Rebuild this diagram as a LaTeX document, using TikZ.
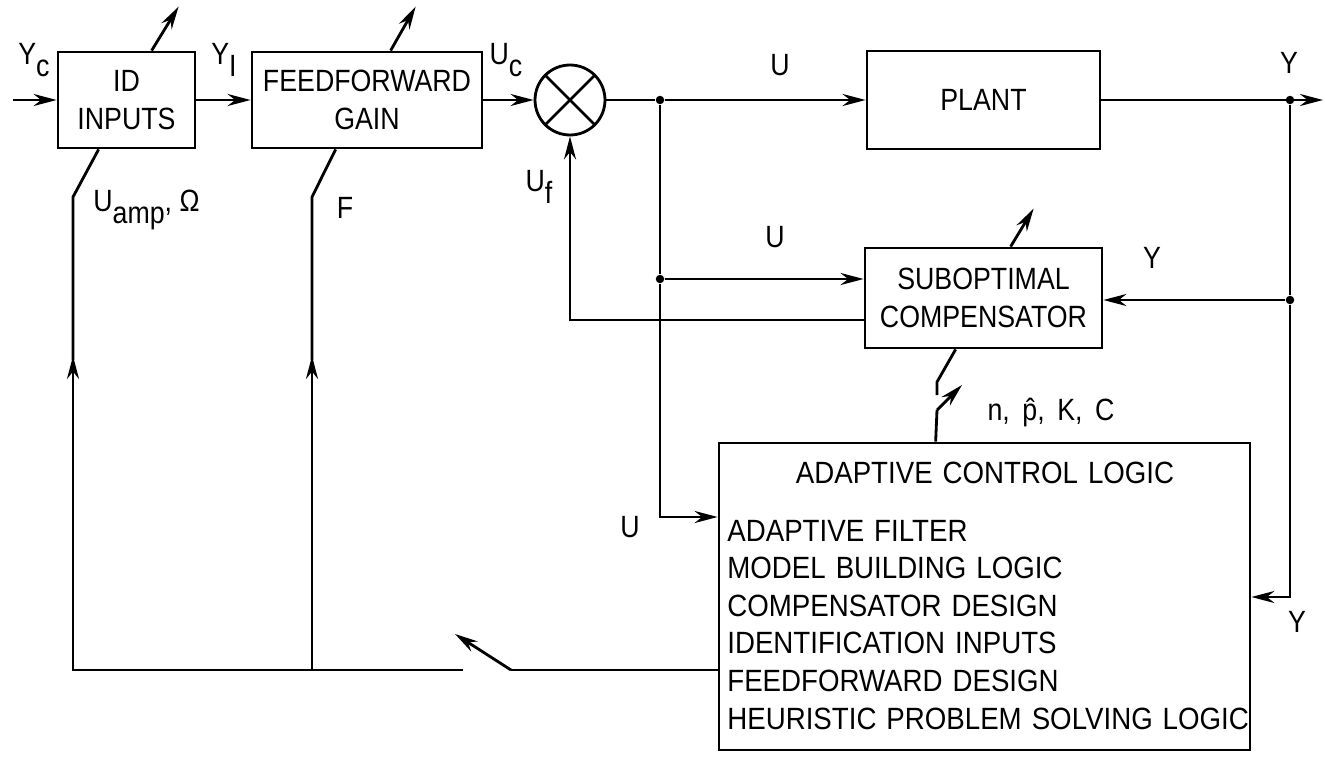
\documentclass[tikz,border=0pt]{standalone}
\usepackage{fontspec}
\setmainfont{Liberation Sans}[FakeStretch=0.87]
\newfontfamily\widefont{Liberation Sans}[FakeStretch=0.9, WordSpace=1.3]
\usetikzlibrary{arrows.meta,calc}

\newcommand{\sigfont}{\fontsize{17.5}{21.4}\selectfont}
\newcommand{\dn}[1]{\raisebox{-0.7ex}{#1}}

\begin{document}
\begin{tikzpicture}[x=0.02cm, y=-0.02cm,
    block/.style={rectangle, draw, line width=1.6pt, font=\sigfont, align=center, inner sep=0pt},
    signal/.style={-{Stealth[length=4.6mm,width=2.4mm]}, line width=1.6pt},
    wire/.style={line width=1.6pt},
    lbl/.style={font=\sigfont, inner sep=0pt},
    listtext/.style={font=\widefont\sigfont, inner sep=0pt},
    junc/.style={circle, fill, inner sep=0pt, minimum size=1.7mm}
]
\useasboundingbox (0,0) rectangle (1325,757);

% blocks
\node[block, minimum width=2.74cm, minimum height=1.92cm] (idin) at (126.5,100) {ID\\INPUTS};
\node[block, minimum width=4.6cm, minimum height=1.92cm] (ffg) at (367,100) {FEEDFORWARD\\GAIN};
\node[circle, draw, line width=1.6pt, minimum size=1.4cm, inner sep=0pt] (sum) at (570,100) {};
\draw[wire] (sum.north west) -- (sum.south east) (sum.north east) -- (sum.south west);
\node[block, minimum width=4.66cm, minimum height=1.96cm] (plant) at (983.5,100) {PLANT};
\node[block, minimum width=4.74cm, minimum height=2cm] (comp) at (983.5,298) {SUBOPTIMAL\\COMPENSATOR};
\node[block, minimum width=10.62cm, minimum height=6.14cm] (acl) at (984.5,596.5) {};
\node[listtext, anchor=base] (acltitle) at (985,483) {ADAPTIVE CONTROL LOGIC};
\node[listtext, anchor=base west, align=left] (acllist) at (727,729) {ADAPTIVE FILTER\\MODEL BUILDING LOGIC\\COMPENSATOR DESIGN\\IDENTIFICATION INPUTS\\FEEDFORWARD DESIGN\\HEURISTIC PROBLEM SOLVING LOGIC};

% branch points
\coordinate (yc) at (13,100);
\node[junc] (u1) at (660,100) {};
\node[junc] (u2) at (660,279) {};
\coordinate (u3) at (660,517);
\node[junc] (y1) at (1290,100) {};
\node[junc] (y2) at (1290,300) {};
\coordinate (y3) at (1290,597);
\coordinate (yout) at (1323,100);
\coordinate (fbk) at (570,320);

% forward path
\draw[signal] (yc) -- (idin);
\draw[signal] (idin) -- (ffg);
\draw[signal] (ffg) -- (sum);
\draw[wire] (sum) -- (u1);
\draw[signal] (u1) -- (plant);
\draw[signal] (plant) -- (yout);

% compensator loop
\draw[wire] (u1) -- (u2);
\draw[signal] (u2) -- (u2 -| comp.west);
\draw[signal] (comp.west |- fbk) -- (fbk) -- (sum.south);
\draw[wire] (y1) -- (y2);
\draw[signal] (y2) -- (y2 -| comp.east);

% inputs to adaptive logic
\draw[signal] (u2) -- (u3) -- (u3 -| acl.west);
\draw[signal] (y2) -- (y3) -- (y3 -| acl.east);

% parameter switch to compensator
\draw[wire] ($(comp.south west)+(92,0)$) -- (937,382) -- (937,395);
\draw[wire] ($(acl.north west)+(218,0)$) -- (937,410);
\draw[signal] (937,410) -- (962,385);

% adjustment arrows
\draw[signal] ($(idin.north west)+(95,0)$) -- +(27,-44);
\draw[signal] ($(ffg.north west)+(140,0)$) -- +(25,-44);
\draw[signal] ($(comp.north west)+(147,0)$) -- +(23,-38);

% feedback to ID inputs and feedforward gain
\coordinate (sw1) at (463,670);
\coordinate (sw2) at (511,670);
\draw[wire] (acl.west |- sw2) -- (sw2);
\draw[signal] (sw2) -- (455,634);
\draw[wire] (sw1) -- (73,670) -- (73,358);
\draw[signal] (73,670) -- (73,356);
\draw[wire] (73,360) -- (73,197) -- ($(idin.south west)+(42,0)$);
\draw[signal] (312,670) -- (312,356);
\draw[wire] (312,360) -- (312,197) -- ($(ffg.south west)+(85,0)$);

% labels
\node[lbl] (lyc) at (34,60) {Y\dn{c}};
\node[lbl] (lyi) at (224,60) {Y\dn{I}};
\node[lbl] (luc) at (506,60) {U\dn{c}};
\node[lbl] (lu1) at (780,65) {U};
\node[lbl] (ly1) at (1289,63) {Y};
\node[lbl] (luf) at (539,187) {U\dn{f}};
\node[lbl, anchor=west] (lamp) at (93,210) {U\dn{amp}, Ω};
\node[lbl] (lf) at (345,208) {F};
\node[lbl] (lu2) at (775,237) {U};
\node[lbl] (ly2) at (1152,258) {Y};
\node[lbl] (lpar) at (1051,412) {n,\, \^{p}, \,K, \,C};
\node[lbl] (lu3) at (630,527) {U};
\node[lbl] (ly3) at (1297,622) {Y};

\end{tikzpicture}
\end{document}
